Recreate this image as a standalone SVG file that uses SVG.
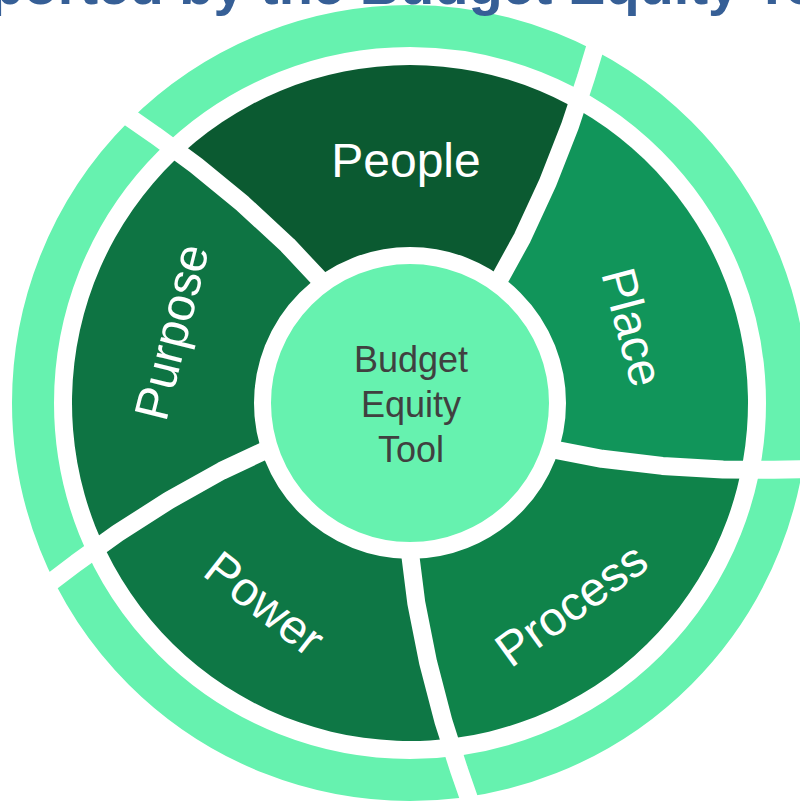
<svg xmlns="http://www.w3.org/2000/svg" width="800" height="803" viewBox="0 0 800 803">
  <defs>
    <clipPath id="ringClip" clipPathUnits="userSpaceOnUse">
      <circle cx="410" cy="403" r="338"/>
    </clipPath>
    <path id="sector" d="M410,403 L493.3,290.5 L522.4,237.6 L547.8,182.5 L570,125.9 L586,77.5 L600.7,28.8 A420,420 0 0 0 113,106 L154.8,135 L195.9,165.2 L242.9,203.8 L287.4,245 L328.7,289 Z"/>
    <path id="divider" d="M493.3,290.5 L522.4,237.6 L547.8,182.5 L570,125.9 L586,77.5 L600.7,28.8"/>
  </defs>
  <style>
    .label { font-family: "Liberation Sans", Arial, sans-serif; font-size: 48px; fill: #ffffff; text-anchor: middle; }
    .center-label { font-family: "Liberation Sans", Arial, sans-serif; font-size: 36px; fill: #404040; text-anchor: middle; }
    .title { font-family: "Liberation Sans", Arial, sans-serif; font-size: 56px; font-weight: bold; fill: #365F96; }
    .div { fill: none; stroke: #ffffff; stroke-width: 18; stroke-linejoin: round; }
  </style>
  <rect x="0" y="0" width="800" height="803" fill="#ffffff"/>

  <g id="node-people">
    <use href="#sector" fill="#0B5A31" clip-path="url(#ringClip)"/>
    <text class="label" x="406" y="177">People</text>
  </g>
  <g id="node-purpose">
    <use href="#sector" fill="#0E7443" transform="rotate(-72 410 403)" clip-path="url(#ringClip)"/>
    <text class="label" transform="translate(176 333) rotate(-76)" x="0" y="12">Purpose</text>
  </g>
  <g id="node-power">
    <use href="#sector" fill="#0E7745" transform="rotate(-144 410 403)" clip-path="url(#ringClip)"/>
    <text class="label" transform="translate(265 603) rotate(38)" x="0" y="17">Power</text>
  </g>
  <g id="node-process">
    <use href="#sector" fill="#0F834A" transform="rotate(-216 410 403)" clip-path="url(#ringClip)"/>
    <text class="label" transform="translate(571 604) rotate(-36)" x="0" y="17">Process</text>
  </g>
  <g id="node-place">
    <use href="#sector" fill="#11955A" transform="rotate(72 410 403)" clip-path="url(#ringClip)"/>
    <text class="label" transform="translate(633 327) rotate(75)" x="0" y="17">Place</text>
  </g>

  <g id="outer-ring">
    <circle cx="410" cy="403" r="377" fill="none" stroke="#66F2AF" stroke-width="42"/>
  </g>

  <g id="connectors">
    <use href="#divider" class="div"/>
    <use href="#divider" class="div" transform="rotate(-72 410 403)"/>
    <use href="#divider" class="div" transform="rotate(-144 410 403)"/>
    <use href="#divider" class="div" transform="rotate(-216 410 403)"/>
    <use href="#divider" class="div" transform="rotate(72 410 403)"/>
  </g>

  <g id="node-center">
    <circle cx="410" cy="403" r="147.5" fill="#66F2AF" stroke="#ffffff" stroke-width="17"/>
    <text class="center-label" x="411" y="372">Budget</text>
    <text class="center-label" x="411" y="417">Equity</text>
    <text class="center-label" x="411" y="462">Tool</text>
  </g>

  <text class="title" x="-10.6" y="4">ported by the Budget Equity To</text>
</svg>
